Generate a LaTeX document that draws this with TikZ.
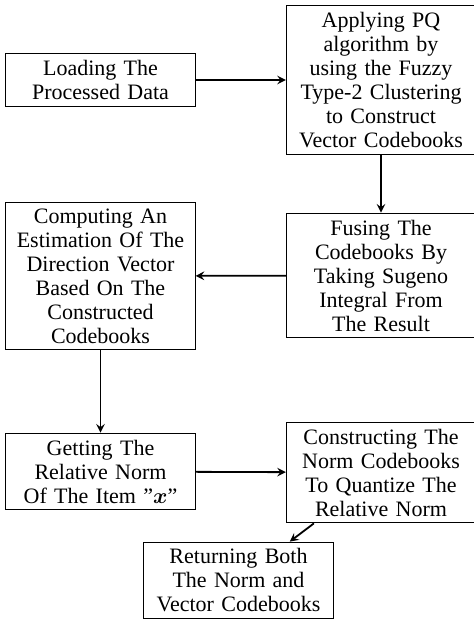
\documentclass[tikz,border=0pt]{standalone}
\usepackage{fontspec}
\usepackage{bm}
\setmainfont{Liberation Serif}
\begin{document}
\begin{tikzpicture}[x=0.5pt,y=-0.5pt,
  stepbox/.style={draw, line width=0.5pt, text width=88pt, align=center, minimum width=94.5pt, inner sep=3.3pt, font=\fontsize{11}{12}\selectfont},
  flow/.style={->, line width=0.9pt, >=stealth}]
\useasboundingbox (0,0) rectangle (474,620);
\node[stepbox] (load) at (100.5,80) {Loading The\\Processed Data};
\node[stepbox] (pq) at (381,80) {Applying PQ\\algorithm by\\using the Fuzzy\\Type-2 Clustering\\to Construct\\Vector Codebooks};
\node[stepbox] (fuse) at (381,275.5) {Fusing The\\Codebooks By\\Taking Sugeno\\Integral From\\The Result};
\node[stepbox] (comp) at (100.5,276) {Computing An\\Estimation Of The\\Direction Vector\\Based On The\\Constructed\\Codebooks};
\node[stepbox] (get) at (100.5,471.5) {Getting The\\Relative Norm\\Of The Item ''$\bm{x}$''};
\node[stepbox] (cons) at (381,472.5) {Constructing The\\Norm Codebooks\\To Quantize The\\Relative Norm};
\node[stepbox] (ret) at (238.5,580.5) {Returning Both\\The Norm and\\Vector Codebooks};
\draw[flow] (load) -- (pq);
\draw[flow] (pq) -- (fuse);
\draw[flow] (fuse) -- (comp);
\draw[flow] (comp) -- (get);
\draw[flow] (get) -- (cons);
\draw[flow] (cons) -- (ret);
\end{tikzpicture}
\end{document}
